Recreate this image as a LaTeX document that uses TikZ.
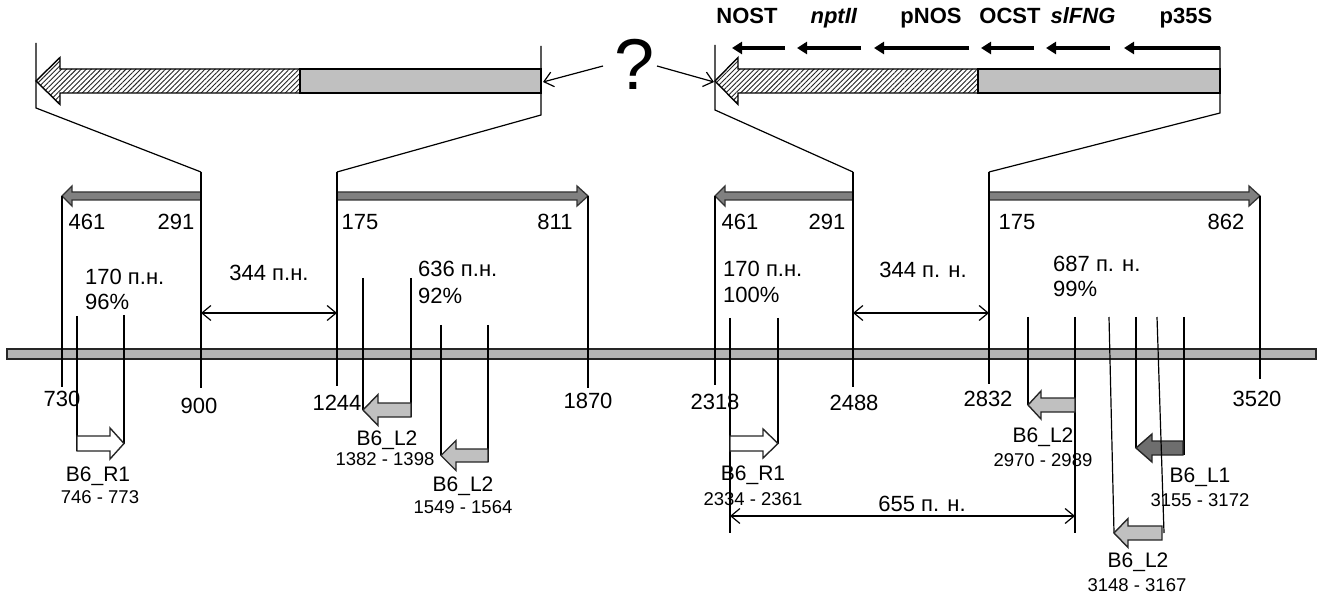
\documentclass[tikz,border=0pt]{standalone}
\usepackage{fontspec}
\setmainfont{Liberation Sans}
\usetikzlibrary{arrows.meta,patterns.meta}
\definecolor{lgray}{HTML}{C0C0C0}
\definecolor{mgray}{HTML}{808080}
\definecolor{dgray}{HTML}{6E6E6E}
\definecolor{bargray}{HTML}{B4B4B4}
\newcommand{\blk}[7]{%
  \draw[#7] ({#1},{#2}) -- ({#3},{#2-#6}) -- ({#3},{#2-#5}) -- ({#4},{#2-#5}) -- ({#4},{#2+#5}) -- ({#3},{#2+#5}) -- ({#3},{#2+#6}) -- cycle;}
\tikzset{
  thin line/.style={line width=1.2pt, black},
  box line/.style={line width=1.4pt, black},
  num/.style={inner sep=0pt, text height=0.716em, text depth=0pt, font=\fontsize{22}{26}\selectfont},
  lbl/.style={inner sep=0pt, text height=0.716em, text depth=0pt, font=\fontsize{21}{25}\selectfont},
  rng/.style={inner sep=0pt, text height=0.716em, text depth=0pt, font=\fontsize{18.5}{22}\selectfont},
  gene/.style={inner sep=0pt, text height=0.716em, text depth=0pt, font=\fontsize{22}{26}\selectfont\bfseries},
  dim/.style={thin line, {Straight Barb[length=9pt,width=15pt]}-{Straight Barb[length=9pt,width=15pt]}},
  qarrow/.style={thin line, -{Straight Barb[length=9pt,width=15pt]}},
  genearrow/.style={line width=3.2pt, -{Triangle[length=10pt,width=12pt]}},
  hatch/.style={box line, preaction={fill=white}, pattern={Lines[angle=45,distance=3.5pt,line width=0.9pt]}, pattern color=black!85},
  solidpart/.style={box line, fill=lgray},
  midarrow/.style={line width=1.3pt, draw=black!80, fill=mgray},
  lprimer/.style={line width=1.4pt, draw=black!85, fill=lgray},
  dprimer/.style={line width=1.4pt, draw=black!85, fill=dgray},
  wprimer/.style={line width=1.4pt, draw=black!85, fill=white},
}
\begin{document}
\begin{tikzpicture}[x=1pt,y=-1pt]
\useasboundingbox (0,0) rectangle (1327,601);

% ---------- top left insert ----------
\blk{36}{81}{60}{300}{12}{23.5}{hatch}
\draw[solidpart] (300,69) rectangle (541,93);
\draw[thin line] (36,43) -- (36,108) -- (201,172);
\draw[thin line] (541,46) -- (541,115) -- (337,172);

% ---------- top right insert ----------
\blk{715}{81}{738}{978}{12}{23.5}{hatch}
\draw[solidpart] (978,69) rectangle (1220,93);
\draw[thin line] (715,45) -- (715,110) -- (853,172);
\draw[thin line] (1220,47) -- (1220,113) -- (989,172);

% gene labels and arrows
\node[gene] (nost) at (747,20) {NOST};
\node[gene] (npt) at (834,20) {\textit{nptII}};
\node[gene] (pnos) at (931,20) {pNOS};
\node[gene] (ocst) at (1010,20) {OCST};
\node[gene] (slfng) at (1083,20) {\textit{slFNG}};
\node[gene] (p35s) at (1186,20) {p35S};
\coordinate (g1a) at (785,48); \coordinate (g1b) at (732,48);
\coordinate (g2a) at (861,48); \coordinate (g2b) at (797,48);
\coordinate (g3a) at (969,48); \coordinate (g3b) at (874,48);
\coordinate (g4a) at (1034,48); \coordinate (g4b) at (981,48);
\coordinate (g5a) at (1110,48); \coordinate (g5b) at (1046,48);
\coordinate (g6a) at (1220,48); \coordinate (g6b) at (1124,48);
\foreach \i in {1,...,6} \draw[genearrow] (g\i a) -- (g\i b);

% question mark
\node[inner sep=0pt, font=\fontsize{72}{80}\selectfont] (q) at (635,64) {?};
\coordinate (qL) at (603,66); \coordinate (bL) at (543,82);
\coordinate (qR) at (657,66); \coordinate (bR) at (714,82);
\draw[qarrow] (qL) -- (bL);
\draw[qarrow] (qR) -- (bR);

% ---------- mid dark arrows ----------
\blk{62}{196}{72}{201}{4}{10}{midarrow}
\blk{588}{196}{577}{337}{4}{10}{midarrow}
\blk{715}{196}{725}{853}{4}{10}{midarrow}
\blk{1260}{196}{1249}{989}{4}{10}{midarrow}

\node[num] (n461a) at (87,226) {461};
\node[num] (n291a) at (176,226) {291};
\node[num] (n175a) at (360,226) {175};
\node[num] (n811) at (555,226) {811};
\node[num] (n461b) at (740,226) {461};
\node[num] (n291b) at (827,226) {291};
\node[num] (n175b) at (1017,226) {175};
\node[num] (n862) at (1226,226) {862};

% ---------- main axis ----------
\draw[line width=1.8pt, draw=black!85, fill=bargray] (7,349) rectangle (1316,359);

% tick lines
\draw[thin line] (62,196) -- (62,387);
\draw[thin line] (201,172) -- (201,388);
\draw[thin line] (337,172) -- (337,386);
\draw[thin line] (588,196) -- (588,388);
\draw[thin line] (715,196) -- (715,385);
\draw[thin line] (853,172) -- (853,387);
\draw[thin line] (989,172) -- (989,384);
\draw[thin line] (1260,196) -- (1260,379);

\node[num] (t730) at (62,403) {730};
\node[num] (t900) at (199,410) {900};
\node[num] (t1244) at (337,407) {1244};
\node[num] (t1870) at (588,405) {1870};
\node[num] (t2318) at (715,406) {2318};
\node[num] (t2488) at (854,407) {2488};
\node[num] (t2832) at (988,403) {2832};
\node[num] (t3520) at (1257,403) {3520};

% dimension arrows
\coordinate (d1a) at (201,313); \coordinate (d1b) at (337,313);
\coordinate (d2a) at (853,313); \coordinate (d2b) at (989,313);
\coordinate (d3a) at (730,516); \coordinate (d3b) at (1075,516);
\draw[dim] (d1a) -- (d1b);
\draw[dim] (d2a) -- (d2b);
\draw[dim] (d3a) -- (d3b);
\node[num] (l344a) at (269,277) {344 п.н.};
\node[num] (l344b) at (923,274) {344 п. н.};
\node[num] (l655) at (922,508) {655 п. н.};

% amplicon texts
\node[num, anchor=west] (a1) at (85,281) {170 п.н.};
\node[num, anchor=west] (a1p) at (85,306) {96\%};
\node[num, anchor=west] (a2) at (418,273) {636 п.н.};
\node[num, anchor=west] (a2p) at (418,300) {92\%};
\node[num, anchor=west] (a3) at (723,273) {170 п.н.};
\node[num, anchor=west] (a3p) at (723,299) {100\%};
\node[num, anchor=west] (a4) at (1053,268) {687 п. н.};
\node[num, anchor=west] (a4p) at (1053,293) {99\%};

% ---------- primers ----------
% B6_R1 left
\draw[thin line] (77,316) -- (77,451);
\draw[thin line] (124,315) -- (124,444);
\blk{124}{443.5}{110}{77}{7.5}{15.5}{wprimer}
\node[lbl] (p1) at (98,478) {B6\_R1};
\node[rng] (p1r) at (100,500) {746 - 773};

% B6_L2 1382
\draw[thin line] (363,278) -- (363,410);
\draw[thin line] (411,278) -- (411,417);
\blk{363}{410}{378}{411}{7}{15.5}{lprimer}
\node[lbl] (p2) at (387,442) {B6\_L2};
\node[rng] (p2r) at (385,462) {1382 - 1398};

% B6_L2 1549
\draw[thin line] (441,325) -- (441,455);
\draw[thin line] (488,325) -- (488,462);
\blk{441}{455.5}{456}{488}{6.5}{15}{lprimer}
\node[lbl] (p3) at (463,488) {B6\_L2};
\node[rng] (p3r) at (463,510) {1549 - 1564};

% B6_R1 right
\draw[thin line] (730,318) -- (730,533);
\draw[thin line] (778,318) -- (778,443);
\blk{778}{443.5}{763}{730}{7.5}{14.5}{wprimer}
\node[lbl] (p4) at (753,477) {B6\_R1};
\node[rng] (p4r) at (753,502) {2334 - 2361};

% B6_L2 2970
\draw[thin line] (1028,317) -- (1028,405);
\draw[thin line] (1075,317) -- (1075,533);
\blk{1028}{405}{1041}{1075}{7}{14}{lprimer}
\node[lbl] (p5) at (1043,439) {B6\_L2};
\node[rng] (p5r) at (1043,463) {2970 - 2989};

% B6_L1 3155
\draw[thin line] (1136,317) -- (1136,448);
\draw[thin line] (1184,317) -- (1184,455);
\blk{1136}{448}{1152}{1183}{7}{14}{dprimer}
\node[lbl] (p6) at (1200,479) {B6\_L1};
\node[rng] (p6r) at (1200,503) {3155 - 3172};

% B6_L2 3148
\draw[thin line] (1109,317) -- (1114,533);
\draw[thin line] (1157,317) -- (1164,533);
\blk{1114}{533}{1128}{1162}{7}{14.5}{lprimer}
\node[lbl] (p7) at (1138,564) {B6\_L2};
\node[rng] (p7r) at (1137,588) {3148 - 3167};

\end{tikzpicture}
\end{document}
